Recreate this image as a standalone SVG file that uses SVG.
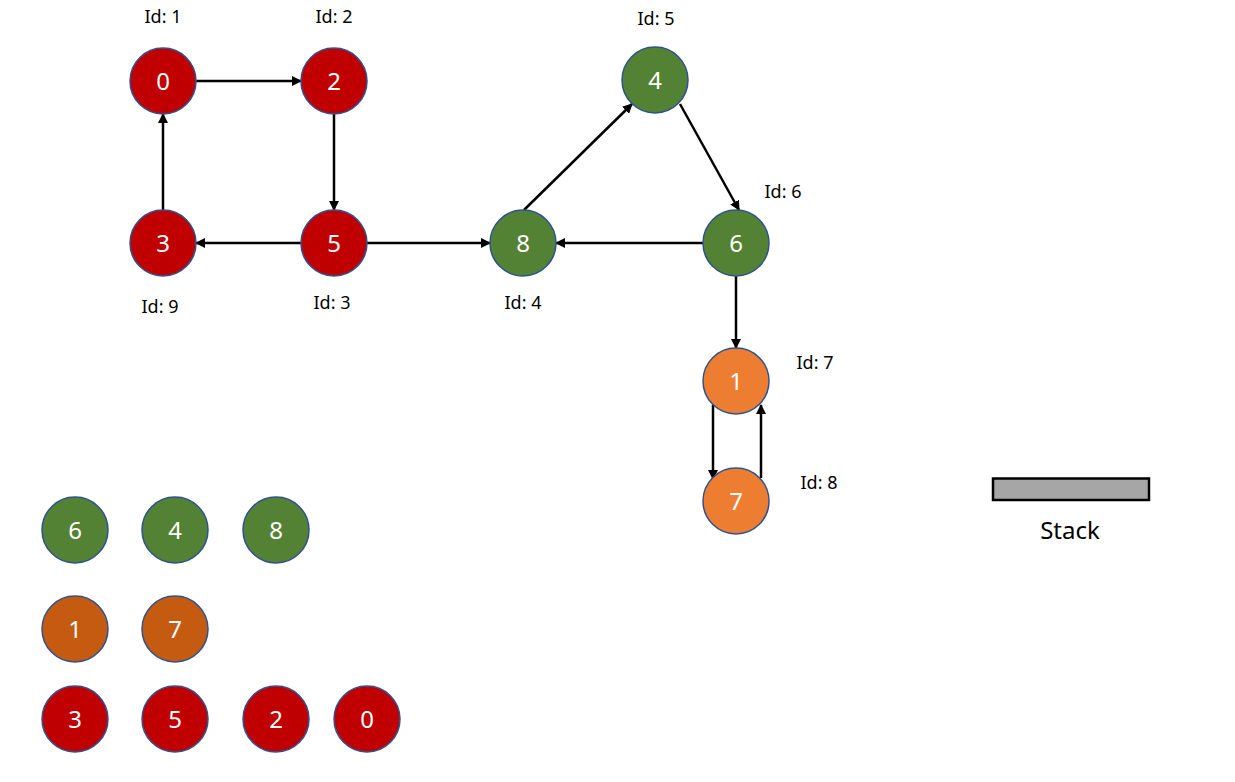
<svg xmlns="http://www.w3.org/2000/svg" width="1235" height="782" viewBox="0 0 1235 782">
<style>
.n{stroke:#2F528F;stroke-width:1.5}
.r{fill:#C00000}.g{fill:#548235}.o{fill:#ED7D31}.d{fill:#C55A11}
.t{fill:#fff;font-family:"Noto Sans","Liberation Sans",sans-serif;font-size:24px;text-anchor:middle;dominant-baseline:central}
.l{fill:#000;font-family:"Noto Sans","Liberation Sans",sans-serif;font-size:18px;text-anchor:middle}
.e{stroke:#000;stroke-width:2.5;fill:none;marker-end:url(#a)}
</style>
<defs>
<marker id="a" viewBox="0 0 10 10" refX="9" refY="5" markerWidth="4" markerHeight="4" orient="auto" markerUnits="strokeWidth">
<path d="M0,0 L10,5 L0,10 z" fill="#000"/>
</marker>
</defs>
<rect width="1235" height="782" fill="#fff"/>
<g id="connectors">
<line class="e" x1="196" y1="81" x2="301" y2="81"/>
<line class="e" x1="334" y1="114" x2="334" y2="210"/>
<line class="e" x1="163" y1="210" x2="163" y2="114"/>
<line class="e" x1="301" y1="243" x2="196" y2="243"/>
<line class="e" x1="367" y1="243" x2="490" y2="243"/>
<line class="e" x1="524" y1="210" x2="632" y2="104"/>
<line class="e" x1="680" y1="104" x2="739" y2="210"/>
<line class="e" x1="703" y1="243" x2="556" y2="243"/>
<line class="e" x1="736" y1="276" x2="736" y2="348"/>
<line class="e" x1="713" y1="405" x2="713" y2="479"/>
<line class="e" x1="761" y1="478" x2="761" y2="405"/>
</g>
<g id="node0"><circle class="n r" cx="163" cy="81" r="33"/><text class="t" x="163" y="80">0</text><text class="l" x="163" y="23">Id: 1</text></g>
<g id="node2"><circle class="n r" cx="334" cy="81" r="33"/><text class="t" x="334" y="80">2</text><text class="l" x="334" y="23">Id: 2</text></g>
<g id="node3"><circle class="n r" cx="163" cy="243" r="33"/><text class="t" x="163" y="242">3</text><text class="l" x="160" y="313">Id: 9</text></g>
<g id="node5"><circle class="n r" cx="334" cy="243" r="33"/><text class="t" x="334" y="242">5</text><text class="l" x="332" y="309">Id: 3</text></g>
<g id="node8"><circle class="n g" cx="523" cy="243" r="33"/><text class="t" x="523" y="242">8</text><text class="l" x="523" y="309">Id: 4</text></g>
<g id="node4"><circle class="n g" cx="655" cy="80" r="33"/><text class="t" x="655" y="79">4</text><text class="l" x="656" y="25">Id: 5</text></g>
<g id="node6"><circle class="n g" cx="736" cy="243" r="33"/><text class="t" x="736" y="242">6</text><text class="l" x="783" y="198">Id: 6</text></g>
<g id="node1"><circle class="n o" cx="736" cy="381" r="33"/><text class="t" x="736" y="380">1</text><text class="l" x="815" y="369">Id: 7</text></g>
<g id="node7"><circle class="n o" cx="736" cy="501" r="33"/><text class="t" x="736" y="500">7</text><text class="l" x="819" y="489">Id: 8</text></g>
<g id="scc-green">
<circle class="n g" cx="75" cy="530" r="33"/><text class="t" x="75" y="529">6</text>
<circle class="n g" cx="175" cy="530" r="33"/><text class="t" x="175" y="529">4</text>
<circle class="n g" cx="276" cy="530" r="33"/><text class="t" x="276" y="529">8</text>
</g>
<g id="scc-orange">
<circle class="n d" cx="75" cy="629" r="33"/><text class="t" x="75" y="628">1</text>
<circle class="n d" cx="175" cy="629" r="33"/><text class="t" x="175" y="628">7</text>
</g>
<g id="scc-red">
<circle class="n r" cx="75" cy="719" r="33"/><text class="t" x="75" y="718">3</text>
<circle class="n r" cx="175" cy="719" r="33"/><text class="t" x="175" y="718">5</text>
<circle class="n r" cx="276" cy="719" r="33"/><text class="t" x="276" y="718">2</text>
<circle class="n r" cx="367" cy="719" r="33"/><text class="t" x="367" y="718">0</text>
</g>
<g id="stack">
<rect x="993" y="478.5" width="156" height="21.5" fill="#A6A6A6" stroke="#000" stroke-width="2.5"/>
<text x="1070" y="539" font-family="Noto Sans, Liberation Sans, sans-serif" font-size="24" text-anchor="middle" fill="#000">Stack</text>
</g>
</svg>
